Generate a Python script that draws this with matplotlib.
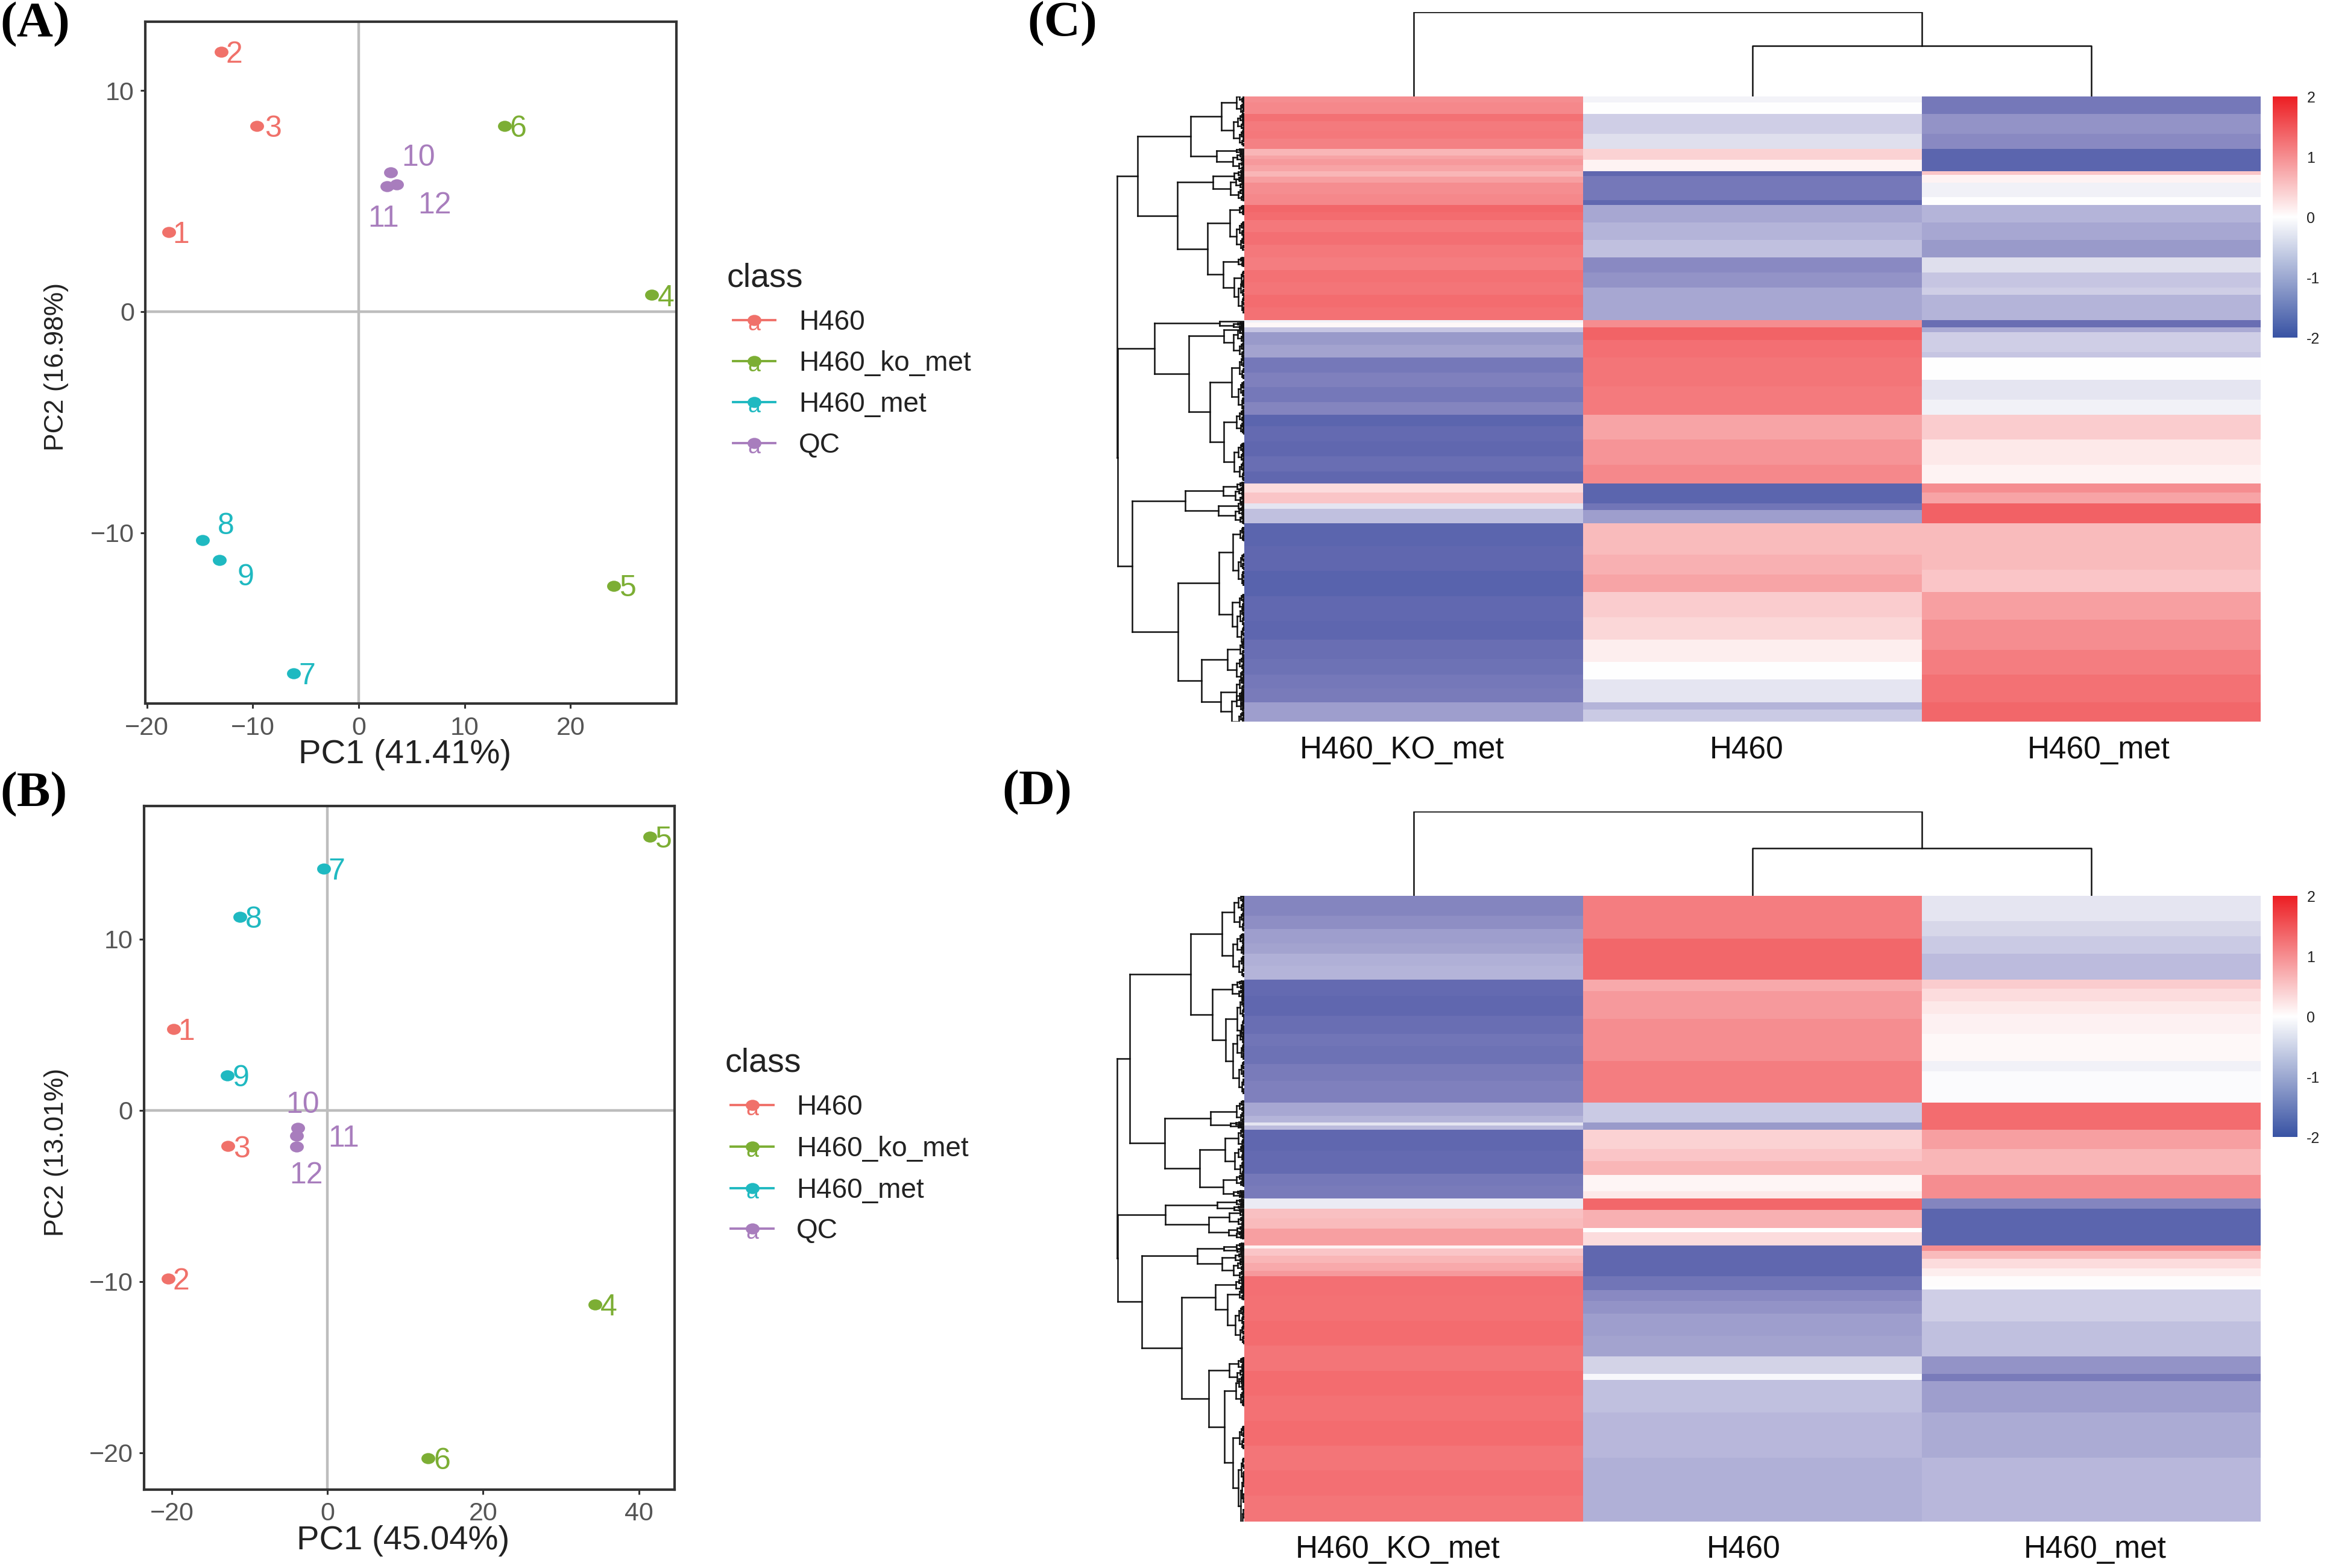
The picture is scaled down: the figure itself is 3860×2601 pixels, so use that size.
import numpy as np
import matplotlib
matplotlib.use("Agg")
import matplotlib.pyplot as plt
from matplotlib.collections import LineCollection
from matplotlib.colors import LinearSegmentedColormap
from matplotlib.lines import Line2D
from matplotlib.path import Path
from matplotlib.transforms import Affine2D

W, H = 3860, 2601
plt.rcParams['font.family'] = ['Liberation Sans', 'DejaVu Sans']

# ---------- PCA data ----------
sample_ids = ['1', '2', '3', '4', '5', '6', '7', '8', '9', '10', '11', '12']
sample_class = [0, 0, 0, 1, 1, 1, 2, 2, 2, 3, 3, 3]
class_names = ['H460', 'H460_ko_met', 'H460_met', 'QC']
class_colors = ['#F0716A', '#7CAE34', '#1FB9C1', '#A87DBD']

a_pc1 = [-17.96, -13.0, -9.63, 27.65, 24.1, 13.77, -6.17, -14.75, -13.15, 3.02, 2.65, 3.58]
a_pc2 = [3.6, 11.76, 8.39, 0.75, -12.4, 8.39, -16.36, -10.34, -11.24, 6.29, 5.66, 5.75]
a_lab_x = [-16.79, -11.79, -8.09, 29.0, 25.43, 15.06, -4.88, -12.53, -10.68, 5.62, 2.35, 7.16]
a_lab_y = [3.57, 11.74, 8.37, 0.72, -12.42, 8.37, -16.38, -9.59, -11.92, 7.08, 4.30, 4.91]

b_pc1 = [-19.75, -20.5, -12.77, 34.4, 41.4, 12.94, -0.5, -11.26, -12.86, -3.78, -3.95, -3.95]
b_pc2 = [4.75, -9.82, -2.1, -11.36, 15.96, -20.33, 14.12, 11.28, 2.02, -1.04, -1.48, -2.14]
b_lab_x = [-18.15, -18.82, -11.0, 36.13, 43.19, 14.71, 1.18, -9.5, -11.09, -3.19, 2.1, -2.69]
b_lab_y = [4.72, -9.85, -2.14, -11.39, 15.93, -20.36, 14.09, 11.25, 1.99, 0.45, -1.51, -3.65]

# ---------- Heatmap C: band edges and scaled values, one list per column ----------
c1_edges = [0, 12, 35, 50, 69, 85, 105, 118, 125, 138, 149, 160, 172, 195, 217, 232, 247, 272, 297, 322, 347, 372, 397, 422, 447, 452, 462, 472, 497, 522, 552, 582, 612, 637, 660, 690, 720, 750, 775, 792, 814, 825, 854, 900, 950, 1000, 1050, 1087, 1125, 1157, 1185, 1212, 1251]
c1_vals = [1.0, 1.05, 1.25, 1.18, 1.2, 1.12, 0.65, 0.8, 0.9, 0.8, 0.65, 0.85, 1.0, 1.05, 1.35, 1.3, 1.2, 1.28, 1.2, 1.15, 1.25, 1.22, 1.3, 1.25, -0.1, 0.05, -0.5, -1.0, -0.9, -1.35, -1.25, -1.35, -1.2, -1.65, -1.55, -1.6, -1.5, -1.6, 0.3, 0.5, -0.2, -0.55, -1.65, -1.6, -1.68, -1.58, -1.62, -1.5, -1.45, -1.35, -1.3, -0.95]
c2_edges = [0, 12, 35, 75, 105, 127, 149, 159, 207, 217, 252, 287, 322, 352, 382, 447, 462, 487, 522, 580, 637, 687, 737, 775, 814, 827, 854, 917, 957, 992, 1042, 1087, 1132, 1167, 1212, 1227, 1251]
c2_vals = [-0.08, 0.0, -0.4, -0.25, 0.4, 0.1, -1.6, -1.35, -1.6, -0.85, -0.7, -0.55, -1.15, -1.05, -0.85, 1.0, 1.38, 1.28, 1.22, 1.18, 0.8, 0.95, 1.05, -1.65, -1.4, -0.95, 0.6, 0.7, 0.8, 0.45, 0.35, 0.15, 0.0, -0.2, -0.7, -0.45]
c3_edges = [0, 35, 75, 105, 149, 157, 172, 202, 217, 252, 287, 322, 352, 382, 397, 447, 462, 472, 512, 522, 567, 607, 637, 687, 737, 775, 792, 814, 854, 947, 992, 1047, 1107, 1157, 1212, 1251]
c3_vals = [-1.35, -1.05, -1.15, -1.65, 0.5, 0.1, -0.1, 0.0, -0.7, -0.85, -1.0, -0.25, -0.5, -0.4, -0.7, -1.5, -0.8, -0.4, -0.5, 0.0, -0.2, -0.1, 0.45, 0.2, 0.1, 1.0, 0.8, 1.4, 0.6, 0.5, 0.85, 1.0, 1.15, 1.25, 1.35]

# ---------- Heatmap D ----------
d1_edges = [0, 40, 66, 95, 116, 140, 168, 200, 240, 276, 300, 336, 370, 414, 440, 454, 460, 468, 510, 556, 580, 606, 626, 645, 666, 699, 706, 720, 735, 750, 761, 800, 850, 900, 950, 1000, 1050, 1100, 1150, 1200, 1252]
d1_vals = [-1.2, -1.1, -0.95, -0.9, -0.75, -0.7, -1.55, -1.6, -1.5, -1.4, -1.45, -1.3, -1.25, -0.85, -0.7, -0.2, -0.6, -1.6, -1.55, -1.35, -1.3, -0.15, 0.55, 0.6, 0.85, 0.1, 0.5, 0.65, 0.75, 0.9, 1.28, 1.25, 1.3, 1.22, 1.3, 1.25, 1.3, 1.22, 1.28, 1.22]
d2_edges = [0, 86, 168, 191, 246, 331, 414, 454, 468, 506, 531, 559, 591, 606, 629, 664, 673, 699, 761, 789, 810, 836, 880, 921, 956, 969, 1034, 1124, 1252]
d2_vals = [1.15, 1.35, 0.75, 0.9, 1.0, 1.15, -0.45, -1.0, 0.4, 0.5, 0.65, 0.08, 0.2, 1.35, 0.7, 0.0, 0.3, -1.6, -1.4, -1.15, -1.05, -0.95, -0.9, -0.35, -0.05, -0.55, -0.65, -0.75]
d3_edges = [0, 51, 81, 116, 168, 186, 211, 236, 276, 331, 351, 414, 468, 506, 558, 606, 626, 699, 711, 726, 746, 761, 781, 788, 851, 921, 956, 971, 1034, 1124, 1252]
d3_vals = [-0.2, -0.3, -0.45, -0.6, 0.45, 0.3, 0.2, 0.12, 0.05, -0.1, -0.02, 1.3, 0.85, 0.65, 1.0, -1.2, -1.65, 1.0, 0.6, 0.3, 0.15, 0.03, 0.0, -0.4, -0.55, -1.05, -1.3, -0.95, -0.8, -0.65]

heat_cols_c = ['H460_KO_met', 'H460', 'H460_met']
colorbar_ticks = [2, 1, 0, -1, -2]
colorbar_labels = ['2', '1', '0', '-1', '-2']

# ---------- Column dendrogram heights ----------
top_heights_c = [140, 84]
top_heights_d = [140, 79]

# ---------- Row dendrograms: (height, upper child, lower child); bare child = row position ----------
tree_c = (211,
  (176.7,
    (89,
      (37.7, (12.7, 0, 20), (18.3, 42.3, 69.3)),
      (46, (12.7, 88, 92), (19.3, 100.7, 115))),
    (111,
      (52.3, (16.7, 127, 137), (23.3, 142, 163)),
      (61,
        (24.3, (7.7, 184, 192), (12.7, 220, 245)),
        (35, (10, 270, 278), (16.7, (5, 295, 308), (10, 318, 347)))))),
  (210,
    (149,
      (41, 373, (18.3, 377, 382)),
      (91.7,
        (34.3, (7.7, 382, 392), (18.3, 395, 421)),
        (56.7,
          (21, (8, 440, 460), (10, 485, 511)),
          (34, (13.3, 530, 550), (16.7, 590, 622))))),
    (185.7,
      (98.3,
        (35, (11.7, 643, 651), (15, 655, 669)),
        (43.3, (10, 675, 683), (15, 688, 702))),
      (110,
        (42.3,
          (19, (6.7, 720, 732), (10, 772, 800)),
          (20, (7.7, 832, 846), (11.7, 862, 896))),
        (70.7,
          (28.3, (6.7, 910, 924), (13.3, 940, 962)),
          (39, (13.3, 975, 1001), (21, 1003, 1037)))))))

tree_d = (211,
  (190,
    (89.3,
      (36.7, (16.7, 11, 43), (19.3, 80, 117)),
      (53.3,
        (20, 147, 162),
        (31, (11.7, 185, 223), (19.3, 245, 302)))),
    (131.7,
      (56, (12.7, 348, 367), (23.3, 377, 382)),
      (74.3,
        (31.7, (10, 393, 411), (15.7, 426, 453)),
        (35, (13.3, 466, 476), (18.3, 491, 497))))),
  (210,
    (131,
      (45, (13.3, 505, 511), (16.7, 516, 520)),
      (59,
        (25, (6.7, 522, 528), (10, 535, 543)),
        (26, (11.7, 550, 556), (13.3, 559, 565)))),
    (170,
      (77.7,
        (34.3, (13.3, 578, 584), (11.7, 585, 589)),
        (36.7, (15, 595, 603), (18.3, 612, 628))),
      (104.3,
        (48.3, (14.3, 639, 650), (28.3, (8, 655, 665), (15, 695, 727))),
        (59,
          (25, (10, 770, 780), (11.7, 790, 804)),
          (33.3,
            (14.3, 807, 833),
            (19, (8, 888, 908), (10, (5, 940, 962), (6, 985, 1037)))))))))

# ---------- Helpers ----------
fig = plt.figure(figsize=(W / 100, H / 100), dpi=100, facecolor='white')
px_tr = Affine2D().scale(1, -1).translate(0, H)


def box(l, t, r, b):
    return [l / W, 1 - b / H, (r - l) / W, (b - t) / H]


def ptxt(x, y, s, **kw):
    kw.setdefault('ha', 'center')
    kw.setdefault('va', 'center')
    fig.text(x / W, 1 - y / H, s, **kw)


oval = Path.unit_circle().transformed(Affine2D().scale(1.0, 0.8))


def pca_panel(rect, xlim, ylim, xticks, yticks, pc1, pc2, lx, ly, xlabel, ylabel, xl_pos, yl_pos):
    ax = fig.add_axes(box(*rect))
    ax.set_xlim(*xlim)
    ax.set_ylim(*ylim)
    ax.axhline(0, color='#BDBDBD', lw=3.2, zorder=1)
    ax.axvline(0, color='#BDBDBD', lw=3.2, zorder=1)
    for i in range(len(pc1)):
        c = class_colors[sample_class[i]]
        ax.plot(pc1[i], pc2[i], marker=oval, ms=16.5, color=c, mew=0, ls='none', zorder=3, clip_on=False)
        ax.annotate(sample_ids[i], (lx[i], ly[i]), xytext=(0, -3), textcoords='offset points',
                    color=c, fontsize=36, ha='center', va='center', zorder=4)
    ax.set_xticks(xticks)
    ax.set_yticks(yticks)
    ax.tick_params(length=6, width=2.2, color='#333333', labelcolor='#555555', labelsize=31, pad=7)
    ax.tick_params(axis='x', pad=9)
    for s in ax.spines.values():
        s.set_linewidth(3)
        s.set_color('#333333')
    ax.set_xlabel(xlabel, fontsize=40.5, color='#222222', va='center')
    ax.set_ylabel(ylabel, fontsize=32, color='#222222', va='center')
    ax.xaxis.set_label_coords(xl_pos[0], xl_pos[1], transform=px_tr)
    ax.yaxis.set_label_coords(yl_pos[0], yl_pos[1], transform=px_tr)
    return ax


def legend(title_xy, ys, x0, x1, xt):
    ptxt(title_xy[0], title_xy[1], 'class', fontsize=40, ha='left', color='#222222')
    xm = (x0 + x1) / 2
    for y, name, c in zip(ys, class_names, class_colors):
        fig.add_artist(Line2D([x0 / W, x1 / W], [1 - y / H] * 2, color=c, lw=2.8))
        ptxt(xm, y + 7, 'a', fontsize=27, color=c)
        fig.add_artist(Line2D([xm / W], [1 - y / H], marker=oval, ms=16.5, color=c, mew=0, ls='none'))
        ptxt(xt, y + 4, name, fontsize=33, ha='left', color='#222222')


def column(edges, vals):
    return np.repeat(vals, np.diff(edges))


def node_segments(node, segs):
    """Return (height, position) of a node, appending its drawn segments."""
    if not isinstance(node, tuple):
        return 0.0, float(node)
    h, a, b = node
    if not isinstance(a, tuple) and not isinstance(b, tuple):
        fine_tips(h, a, b, segs)
        return h, (a + b) / 2
    ha, ya = node_segments(a, segs)
    hb, yb = node_segments(b, segs)
    segs.append([(h, ya), (h, yb)])
    segs.append([(h, ya), (ha, ya)])
    segs.append([(h, yb), (hb, yb)])
    return h, (ya + yb) / 2


def fine_tips(h, y0, y1, segs):
    span = y1 - y0
    segs.append([(h, y0), (h, y1)])
    for y, f in ((y0, 0.62), (y1, 0.45)):
        hc = h * f
        if span < 2.5 or hc < 1.2:
            segs.append([(h, y), (0, y)])
        else:
            segs.append([(h, y), (hc, y)])
            fine_tips(hc, y - span / 4, y + span / 4, segs)


heat_cmap = LinearSegmentedColormap.from_list('heat', [
    (0.0, '#3953A4'), (0.1, '#6168B0'), (0.1875, '#7F80BD'), (0.275, '#A4A4D0'),
    (0.35, '#BDBCDE'), (0.425, '#D8D8EA'), (0.5, '#FFFFFF'), (1.0, '#ED1F24')])
bar_cmap = LinearSegmentedColormap.from_list('bar', ['#3953A4', '#FFFFFF', '#ED1F24'])


def heat_panel(left, top, right, bottom, cols, tree, heights, ytop, labels_xy, cb_rect):
    ax = fig.add_axes(box(left, top, right, bottom))
    mat = np.column_stack([column(e, v) for e, v in cols])
    ax.imshow(mat, aspect='auto', cmap=heat_cmap, vmin=-2, vmax=2, interpolation='nearest')
    ax.axis('off')

    dax = fig.add_axes(box(left - 240, top, left, bottom))
    dax.set_xlim(240, 0)
    dax.set_ylim(1037, 0)
    dax.axis('off')
    segs = []
    node_segments(tree, segs)
    dax.add_collection(LineCollection(segs, colors='#111111', linewidths=1.8, capstyle='projecting'))

    tax = fig.add_axes(box(left, ytop, right, top))
    tax.set_xlim(0, 3)
    tax.set_ylim(0, heights[0])
    tax.axis('off')
    h0, h1 = heights
    tax.plot([1.5, 1.5, 2.5, 2.5], [0, h1, h1, 0], color='#111111', lw=1.8)
    tax.plot([0.5, 0.5, 2.0, 2.0], [0, h0, h0, h1], color='#111111', lw=1.8)

    for (x, y), s in zip(labels_xy, heat_cols_c):
        ptxt(x, y, s, fontsize=37, color='#111111')

    cax = fig.add_axes(box(*cb_rect))
    grad = np.linspace(2, -2, 256)[:, None]
    cax.imshow(grad, aspect='auto', cmap=bar_cmap, vmin=-2, vmax=2, extent=[0, 1, -2, 2], interpolation='bilinear')
    cax.set_xticks([])
    cax.yaxis.tick_right()
    cax.set_yticks(colorbar_ticks)
    cax.set_yticklabels(colorbar_labels, fontsize=18, color='#222222')
    cax.tick_params(length=0, pad=11)
    for s in cax.spines.values():
        s.set_visible(False)


# ---------- Panels ----------
pca_panel((241, 35.6, 1122, 1167), (-20.16, 30.0), (-17.73, 13.13), [-20, -10, 0, 10, 20], [-10, 0, 10],
          a_pc1, a_pc2, a_lab_x, a_lab_y, 'PC1 (41.41%)', 'PC2 (16.98%)', (672, 1252), (93, 608))
legend((1206, 461), [531, 599, 667, 735], 1216, 1286, 1325)

pca_panel((238.5, 1337, 1119, 2470.5), (-23.6, 44.6), (-22.14, 17.77), [-20, 0, 20, 40], [-20, -10, 0, 10],
          b_pc1, b_pc2, b_lab_x, b_lab_y, 'PC1 (45.04%)', 'PC2 (13.01%)', (669, 2556), (93, 1911))
legend((1203, 1763), [1833, 1902, 1971, 2038], 1212, 1283, 1321)

heat_panel(2064, 160, 3750, 1197,
           [(c1_edges, c1_vals), (c2_edges, c2_vals), (c3_edges, c3_vals)],
           tree_c, top_heights_c, 20, [(2326, 1245), (2897, 1245), (3481, 1245)], (3770, 160, 3811, 560))
heat_panel(2064, 1486, 3750, 2524,
           [(d1_edges, d1_vals), (d2_edges, d2_vals), (d3_edges, d3_vals)],
           tree_d, top_heights_d, 1346, [(2319, 2571), (2892, 2571), (3475, 2571)], (3770, 1486, 3811, 1886))

for (x, y, s) in [(0, 41, '(A)'), (0, 1318, '(B)'), (1704, 40, '(C)'), (1662, 1315, '(D)')]:
    ptxt(x, y, s, fontsize=60, ha='left', family='Liberation Serif', fontweight='bold', color='black')

fig.savefig('out.png', dpi=100, facecolor='white')
